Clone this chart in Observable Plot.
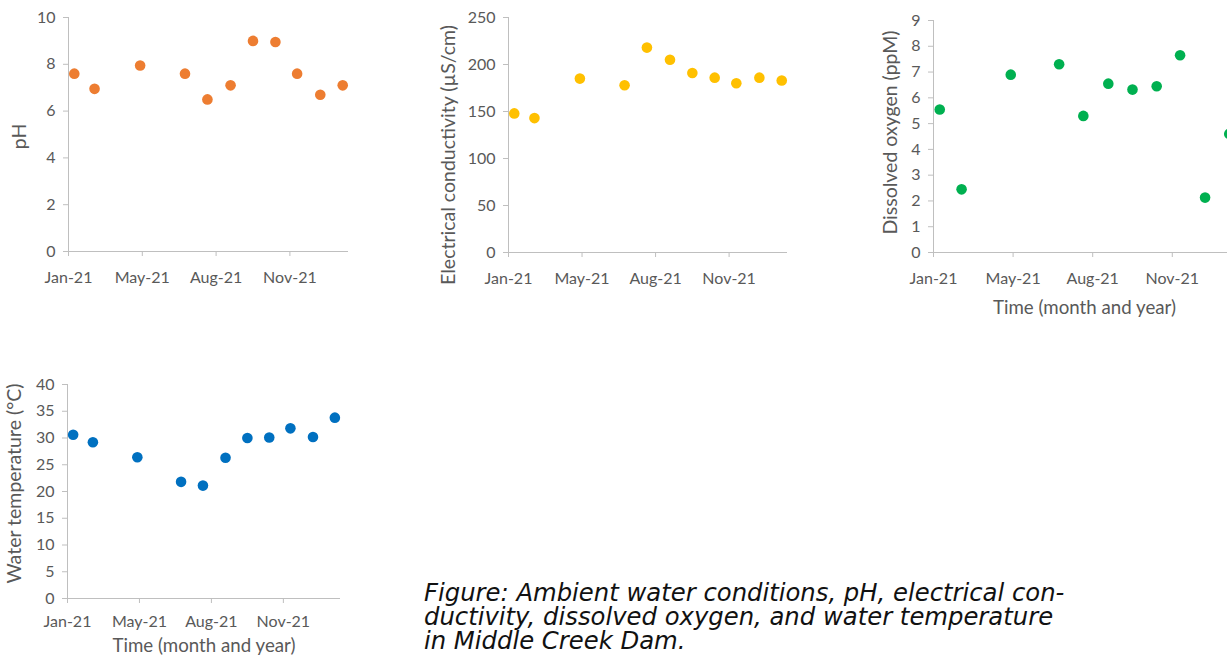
<!DOCTYPE html>
<html>
<head>
<meta charset="utf-8">
<script src="https://cdn.jsdelivr.net/npm/d3@7"></script>
<script src="https://cdn.jsdelivr.net/npm/@observablehq/plot@0.6"></script>
<style>
  html, body { margin: 0; padding: 0; background: #fff; }
  #root { position: relative; width: 1227px; height: 659px; overflow: hidden; background: #fff; }
  .panel { position: absolute; }
  .panel svg { max-width: none !important; }
  #caption {
    position: absolute; left: 424px; top: 581px;
    font-family: "DejaVu Sans", sans-serif; font-style: italic;
    font-size: 24.3px; line-height: 24px; color: #111; white-space: nowrap;
  }
</style>
</head>
<body>
<div id="root"></div>
<script>
// ---- data ----
const sampleDates = ["2021-01-28", "2021-02-25", "2021-04-29", "2021-06-30", "2021-07-31",
                     "2021-09-01", "2021-10-02", "2021-11-02", "2021-12-02", "2022-01-03", "2022-02-03"];
const phValues   = [7.6, 6.95, 7.95, 7.6, 6.5, 7.1, 9.0, 8.95, 7.6, 6.7, 7.1];
const ecValues   = [148, 143, 185, 178, 218, 205, 191, 186, 180, 186, 183];
const doValues   = [5.55, 2.45, 6.9, 7.3, 5.3, 6.55, 6.32, 6.45, 7.65, 2.13, 4.6];
const tempValues = [30.6, 29.2, 26.4, 21.8, 21.1, 26.3, 30.0, 30.1, 31.8, 30.2, 33.8];

const xDomainDates = ["2021-01-20", "2022-02-11"];
const xTickDates   = ["2021-01-20", "2021-05-02", "2021-08-12", "2021-11-22"];
const phTicks   = [0, 2, 4, 6, 8, 10];
const ecTicks   = [0, 50, 100, 150, 200, 250];
const doTicks   = [0, 1, 2, 3, 4, 5, 6, 7, 8, 9];
const tempTicks = [0, 5, 10, 15, 20, 25, 30, 35, 40];

const captionLines = [
  "Figure: Ambient water conditions, pH, electrical con-",
  "ductivity, dissolved oxygen, and water temperature",
  "in Middle Creek Dam."
];

const axisGray = "#bfbfbf";
const textGray = "#595959";

function panel(cfg) {
  const data = sampleDates.map((d, i) => ({date: new Date(d), value: cfg.values[i]}));
  const marks = [
    Plot.ruleY([cfg.ticks[0]], {stroke: axisGray}),
    Plot.ruleX([new Date(xDomainDates[0])], {stroke: axisGray}),
    Plot.axisY({ticks: cfg.ticks, tickSize: 5, tickPadding: 8, stroke: axisGray, fill: textGray, label: null}),
    Plot.axisX({ticks: xTickDates.map(d => new Date(d)), tickFormat: d3.utcFormat("%b-%y"),
                tickSize: 5, tickPadding: cfg.xTickPad, stroke: axisGray, fill: textGray, label: null}),
    Plot.text([cfg.yLabel], {text: d => d, frameAnchor: "left", rotate: -90, dx: cfg.yLabelDx, dy: cfg.yLabelDy,
                             textAnchor: "middle", lineAnchor: "middle", fill: textGray, fontSize: 19.5}),
  ];
  if (cfg.xLabel) {
    marks.push(Plot.text([cfg.xLabel], {text: d => d, frameAnchor: "bottom", dy: cfg.xLabelDy,
                                         textAnchor: "middle", lineAnchor: "middle", fill: textGray, fontSize: 18.7}));
  }
  marks.push(Plot.dot(data, {x: "date", y: "value", r: 5.3, fill: cfg.color}));
  const svg = Plot.plot({
    width: cfg.width, height: cfg.height,
    marginLeft: cfg.ml, marginRight: cfg.mr, marginTop: cfg.mt, marginBottom: cfg.mb,
    style: {fontFamily: "Lato, sans-serif", fontSize: "16px", background: "transparent", overflow: "visible"},
    x: {type: "utc", domain: xDomainDates.map(d => new Date(d))},
    y: {domain: [cfg.ticks[0], cfg.ticks[cfg.ticks.length - 1]]},
    marks
  });
  const wrap = document.createElement("div");
  wrap.className = "panel";
  wrap.style.left = cfg.left + "px";
  wrap.style.top = cfg.top + "px";
  wrap.style.width = cfg.width + "px";
  wrap.style.height = cfg.height + "px";
  wrap.appendChild(svg);
  document.getElementById("root").appendChild(wrap);
}

panel({values: phValues, ticks: phTicks, color: "#ED7D31", yLabel: "pH",
       left: 0, top: 0, width: 360, height: 300, ml: 68, mr: 12, mt: 17, mb: 49,
       xTickPad: 15, yLabelDx: -49, yLabelDy: 2});
panel({values: ecValues, ticks: ecTicks, color: "#FFC000", yLabel: "Electrical conductivity (\u00B5S/cm)",
       left: 420, top: 0, width: 380, height: 300, ml: 88, mr: 13, mt: 17, mb: 48,
       xTickPad: 15, yLabelDx: -60, yLabelDy: 20});
panel({values: doValues, ticks: doTicks, color: "#00B050", yLabel: "Dissolved oxygen (ppM)",
       xLabel: "Time (month and year)",
       left: 860, top: 0, width: 385, height: 330, ml: 73, mr: 10, mt: 20, mb: 78,
       xTickPad: 15, yLabelDx: -43, yLabelDy: -4, xLabelDy: 56});
panel({values: tempValues, ticks: tempTicks, color: "#0070C0", yLabel: "Water temperature (\u00B0C)",
       xLabel: "Time (month and year)",
       left: 0, top: 370, width: 355, height: 289, ml: 67, mr: 15, mt: 14, mb: 61,
       xTickPad: 12, yLabelDx: -53, yLabelDy: -8, xLabelDy: 48});

const cap = document.createElement("div");
cap.id = "caption";
captionLines.forEach(line => {
  const d = document.createElement("div");
  d.textContent = line;
  cap.appendChild(d);
});
document.getElementById("root").appendChild(cap);
</script>
</body>
</html>
